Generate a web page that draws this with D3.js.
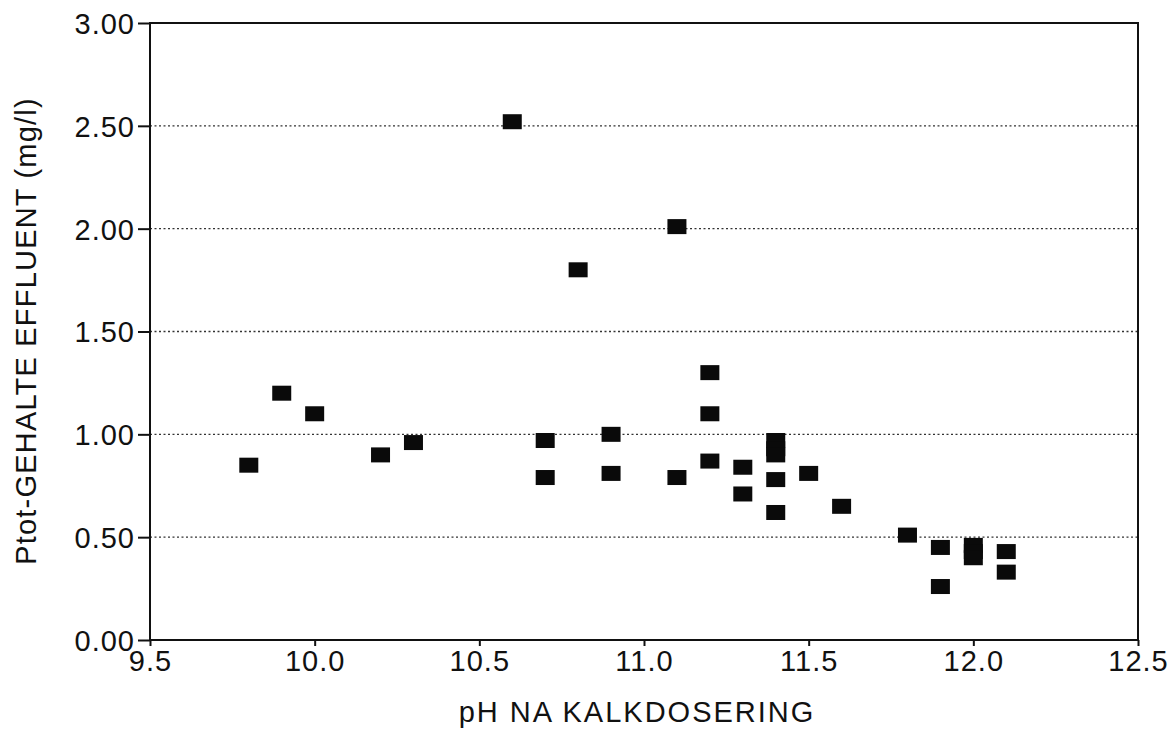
<!DOCTYPE html>
<html>
<head>
<meta charset="utf-8">
<script src="https://cdn.jsdelivr.net/npm/d3@7"></script>
<style>
  body { margin: 0; background: #fff; }
  text { font-family: "Liberation Sans", Arial, Helvetica, sans-serif; fill: #111; }
</style>
</head>
<body>
<svg id="chart" width="1176" height="733"></svg>
<script>
// pH after lime dosing vs total P in effluent
var phValues = [9.8, 9.9, 10.0, 10.2, 10.3, 10.6, 10.7, 10.7, 10.8, 10.9, 10.9,
  11.1, 11.1, 11.2, 11.2, 11.2, 11.3, 11.3, 11.4, 11.4, 11.4, 11.4, 11.4,
  11.5, 11.6, 11.8, 11.9, 11.9, 12.0, 12.0, 12.0, 12.1, 12.1];
var ptotValues = [0.85, 1.20, 1.10, 0.90, 0.96, 2.52, 0.97, 0.79, 1.80, 1.00, 0.81,
  2.01, 0.79, 1.30, 1.10, 0.87, 0.84, 0.71, 0.97, 0.93, 0.90, 0.78, 0.62,
  0.81, 0.65, 0.51, 0.45, 0.26, 0.46, 0.43, 0.40, 0.43, 0.33];
var xTicks = [9.5, 10.0, 10.5, 11.0, 11.5, 12.0, 12.5];
var yTicks = [0, 0.5, 1.0, 1.5, 2.0, 2.5, 3.0];

var xTitle = "pH NA KALKDOSERING";
var yTitle = "Ptot-GEHALTE EFFLUENT (mg/l)";

var data = phValues.map(function (d, i) { return { x: d, y: ptotValues[i] }; });

var margin = { left: 150, right: 38, top: 23, bottom: 93 };
var WIDTH = 1176, HEIGHT = 733;
var svg = d3.select("#chart");

var x = d3.scaleLinear().domain([9.5, 12.5]).range([margin.left, WIDTH - margin.right]);
var y = d3.scaleLinear().domain([0, 3]).range([HEIGHT - margin.bottom, margin.top]);

// dotted gridlines
svg.append("g")
  .selectAll("line")
  .data(yTicks.filter(function (t) { return t > 0 && t < 3; }))
  .enter()
  .append("line")
  .attr("x1", x(9.5))
  .attr("x2", x(12.5))
  .attr("y1", function (d) { return y(d); })
  .attr("y2", function (d) { return y(d); })
  .attr("stroke", "#333")
  .attr("stroke-width", 1.3)
  .attr("stroke-dasharray", "2,2.5");

// axes
var xAxis = svg.append("g")
  .attr("transform", "translate(0," + y(0) + ")")
  .call(d3.axisBottom(x).tickValues(xTicks).tickSize(6).tickPadding(4)
    .tickFormat(d3.format(".1f")));

var yAxis = svg.append("g")
  .attr("transform", "translate(" + x(9.5) + ",0)")
  .call(d3.axisLeft(y).tickValues(yTicks).tickSize(12).tickPadding(3)
    .tickFormat(d3.format(".2f")));

[xAxis, yAxis].forEach(function (g) {
  g.select(".domain").remove();
  g.selectAll("line").attr("stroke", "#111").attr("stroke-width", 2);
  g.selectAll("text")
    .style("font-size", "29px")
    .style("letter-spacing", "1px")
    .attr("fill", "#111");
});
yAxis.selectAll("text").attr("dy", "0.36em");

// frame
svg.append("rect")
  .attr("x", x(9.5))
  .attr("y", y(3))
  .attr("width", x(12.5) - x(9.5))
  .attr("height", y(0) - y(3))
  .attr("fill", "none")
  .attr("stroke", "#111")
  .attr("stroke-width", 2);

// points
var SQ_W = 19, SQ_H = 15;
svg.append("g")
  .selectAll("rect")
  .data(data)
  .enter()
  .append("rect")
  .attr("x", function (d) { return x(d.x) - SQ_W / 2; })
  .attr("y", function (d) { return y(d.y) - SQ_H / 2; })
  .attr("width", SQ_W)
  .attr("height", SQ_H)
  .attr("fill", "#0a0a0a");

// titles
svg.append("text")
  .attr("x", 637)
  .attr("y", 722)
  .attr("text-anchor", "middle")
  .style("font-size", "29px")
  .style("letter-spacing", "2px")
  .text(xTitle);

svg.append("text")
  .attr("transform", "translate(36," + 331 + ") rotate(-90)")
  .attr("text-anchor", "middle")
  .style("font-size", "29px")
  .style("letter-spacing", "1.2px")
  .text(yTitle);
</script>
</body>
</html>
